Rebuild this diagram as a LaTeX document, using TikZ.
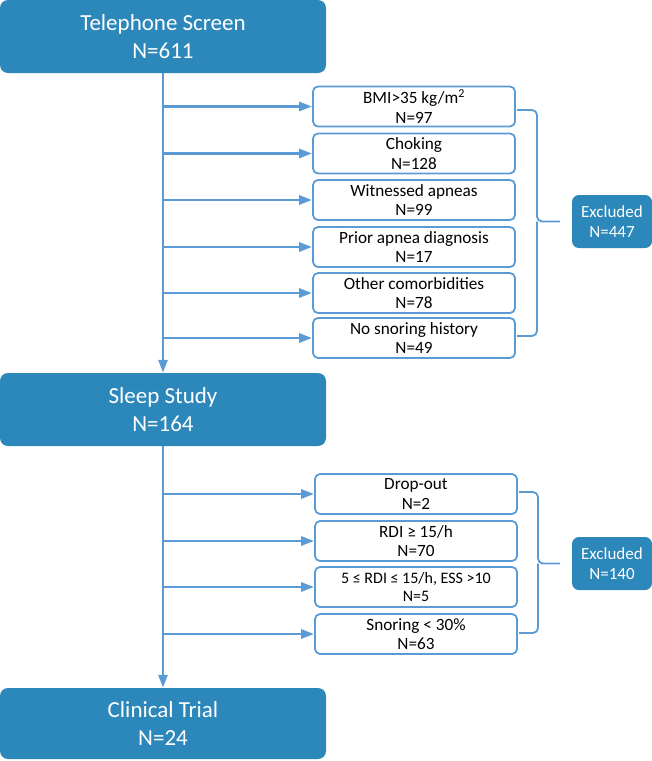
\documentclass[tikz,border=0pt]{standalone}
\usepackage{fontspec}
\setmainfont{Carlito}
\usetikzlibrary{arrows.meta,calc}
\definecolor{dkblue}{HTML}{2C87BA}
\definecolor{ltblue}{HTML}{5B9BD5}
\tikzset{
  mainbox/.style={fill=dkblue, rounded corners=8pt, text=white, align=center,
    minimum width=326pt, minimum height=73pt, inner sep=0pt,
    font=\fontsize{23}{28}\selectfont},
  sidebox/.style={draw=ltblue, line width=1.8pt, fill=white, rounded corners=5pt,
    align=center, minimum width=202pt, minimum height=40pt, inner sep=0pt,
    font=\fontsize{17.2}{19.5}\selectfont},
  exbox/.style={fill=dkblue, rounded corners=7pt, text=white, align=center,
    minimum width=80pt, minimum height=53pt, inner sep=0pt,
    font=\fontsize{17}{19.5}\selectfont},
  arr/.style={draw=ltblue, line width=2.8pt, -{Triangle[length=13pt,width=9pt]}},
  bracepath/.style={draw=ltblue, line width=1.8pt, rounded corners=5pt}
}
\begin{document}
\begin{tikzpicture}[x=1pt,y=-1pt]
\useasboundingbox (0,0) rectangle (652,761);
\node[mainbox] (tel) at (163,36.5) {Telephone Screen\\N=611};
\node[mainbox] (sleep) at (163,409.5) {Sleep Study\\N=164};
\node[mainbox, minimum height=71pt] (clin) at (163,723.5) {Clinical Trial\\N=24};

\node[sidebox] (b1) at (414,106.5) {BMI>35 kg/m\textsuperscript{2}\\N=97};
\node[sidebox] (b2) at (414,153.5) {Choking\\N=128};
\node[sidebox] (b3) at (414,200) {Witnessed apneas\\N=99};
\node[sidebox] (b4) at (414,247) {Prior apnea diagnosis\\N=17};
\node[sidebox] (b5) at (414,293) {Other comorbidities\\N=78};
\node[sidebox] (b6) at (414,338) {No snoring history\\N=49};

\node[sidebox] (c1) at (416,494) {Drop-out\\N=2};
\node[sidebox] (c2) at (416,541) {RDI ≥ 15/h\\N=70};
\node[sidebox, font=\fontsize{16}{18.5}\selectfont] (c3) at (416,587) {5 ≤ RDI ≤ 15/h, ESS >10\\N=5};
\node[sidebox] (c4) at (416,634) {Snoring < 30\%\\N=63};

\node[exbox] (ex1) at (612,221.5) {Excluded\\N=447};
\node[exbox] (ex2) at (612,563.5) {Excluded\\N=140};

\draw[arr] (tel.south) -- (sleep.north);
\draw[arr] (sleep.south) -- (clin.north);
\foreach \b in {b1,b2,b3,b4,b5,b6,c1,c2,c3,c4}
  \draw[arr] (tel.south |- \b.west) -- (\b.west);

% braces
\draw[bracepath] (517,110) -- (537,110) -- (537,221.5) -- (560,221.5);
\draw[bracepath] (517,336) -- (537,336) -- (537,221.5);
\draw[bracepath] (519,492) -- (538,492) -- (538,563.5) -- (560,563.5);
\draw[bracepath] (519,633) -- (538,633) -- (538,563.5);
\end{tikzpicture}
\end{document}
